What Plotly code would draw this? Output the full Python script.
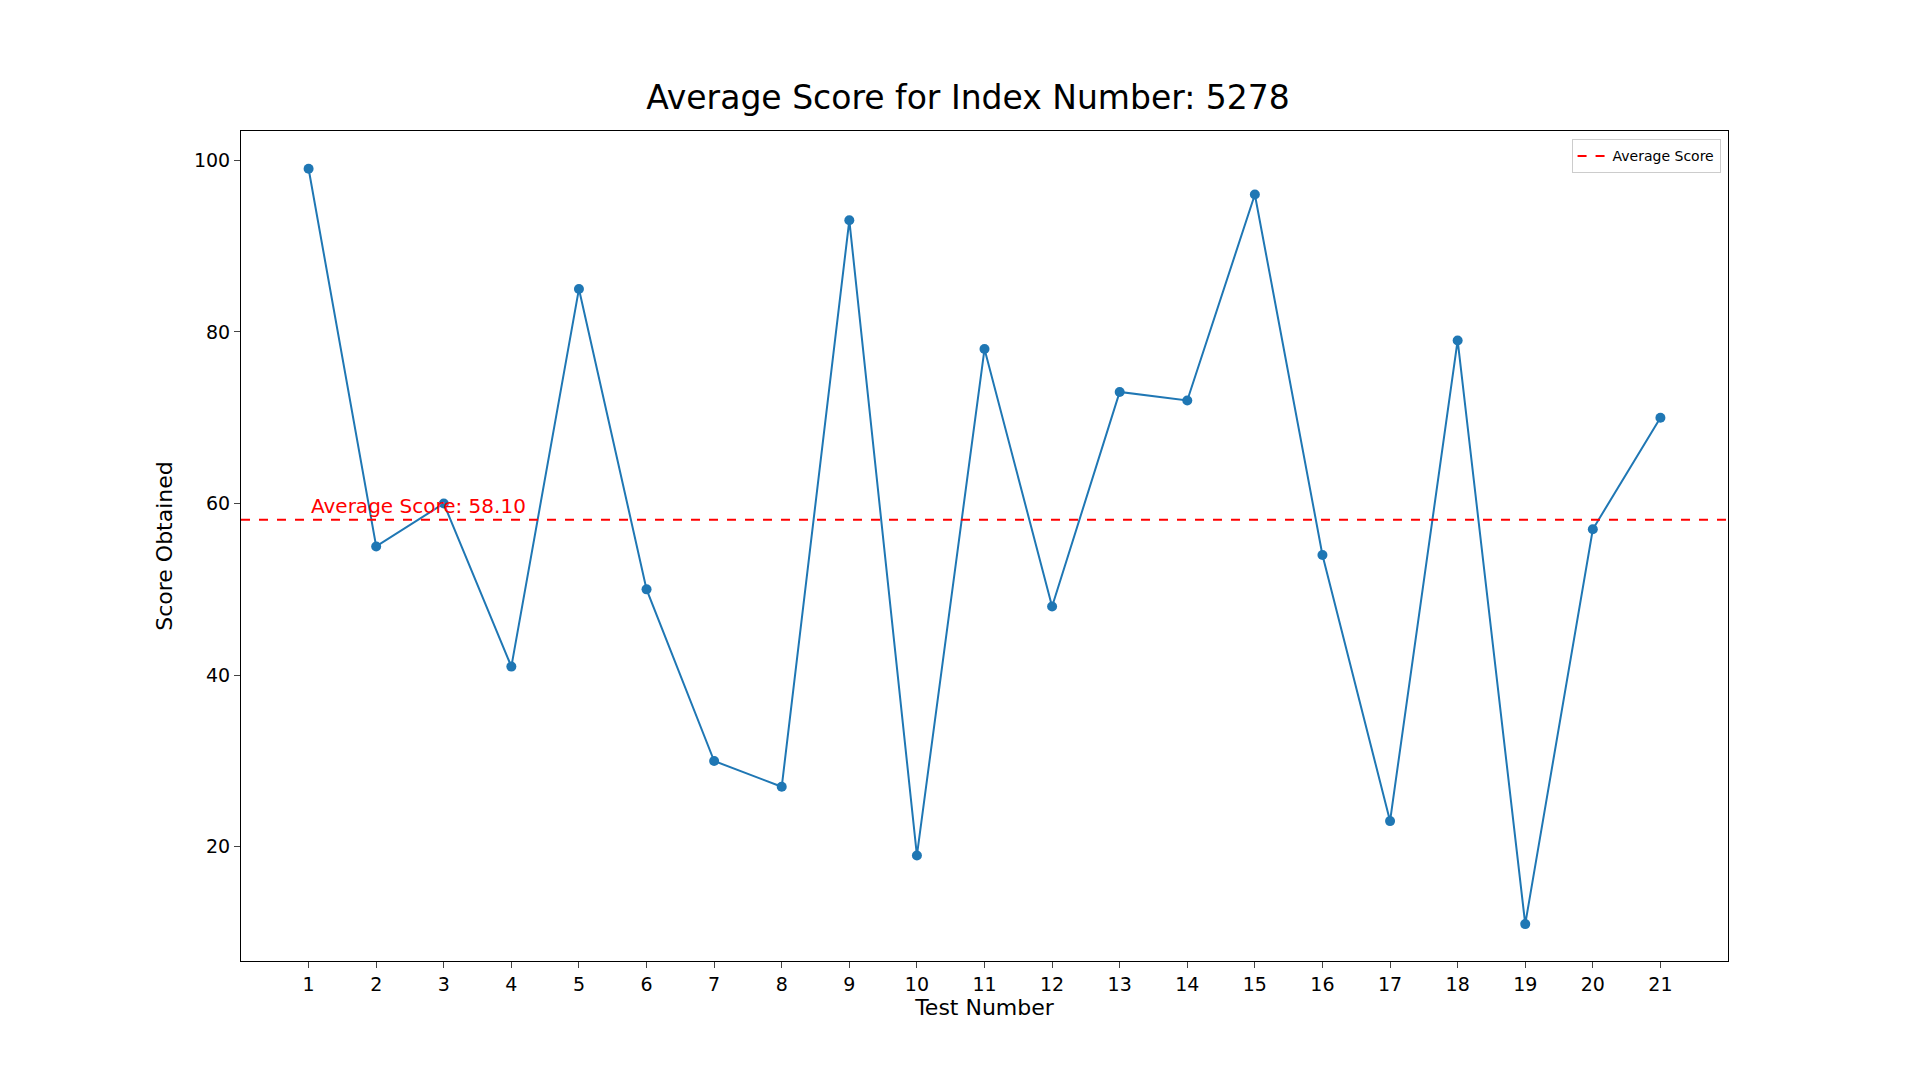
import plotly.graph_objects as go

tests = list(range(1, 22))
scores = [99, 55, 60, 41, 85, 50, 30, 27, 93, 19, 78, 48, 73, 72, 96, 54, 23, 79, 11, 57, 70]
avg = sum(scores) / len(scores)

fig = go.Figure()
fig.add_trace(go.Scatter(x=tests, y=scores, mode="lines+markers",
                         line=dict(color="#1f77b4", width=2),
                         marker=dict(color="#1f77b4", size=10), showlegend=False))
fig.add_trace(go.Scatter(x=[0, 22], y=[avg, avg], mode="lines",
                         line=dict(color="red", width=2, dash="dash"),
                         name="Average Score"))
fig.add_annotation(x=1, y=avg, text=f"Average Score: {avg:.2f}", showarrow=False,
                   xanchor="left", yanchor="bottom", font=dict(color="red", size=20))

fig.update_layout(
    width=1920, height=1080, paper_bgcolor="white", plot_bgcolor="white",
    font=dict(family="DejaVu Sans", color="black"),
    margin=dict(l=233, r=200, t=123, b=127),
    title=dict(text="Average Score for Index Number: 5278", x=0.5, xanchor="center",
               y=1 - 101 / 1080, yanchor="bottom", font=dict(size=33)),
    xaxis=dict(range=[0, 22], tickvals=tests, title=dict(text="Test Number", font=dict(size=22), standoff=5),
               showgrid=False, zeroline=False, showline=True, linecolor="black", mirror=True,
               ticks="outside", ticklen=6, tickfont=dict(size=19)),
    yaxis=dict(range=[6.7, 103.4], tickvals=[20, 40, 60, 80, 100], title=dict(text="Score Obtained", font=dict(size=22)),
               showgrid=False, zeroline=False, showline=True, linecolor="black", mirror=True,
               ticks="outside", ticklen=6, tickfont=dict(size=19)),
    legend=dict(x=0.995, y=0.99, xanchor="right", yanchor="top", bordercolor="#cccccc",
                borderwidth=1, font=dict(size=14), bgcolor="white"),
)
fig.write_html("out.html")
